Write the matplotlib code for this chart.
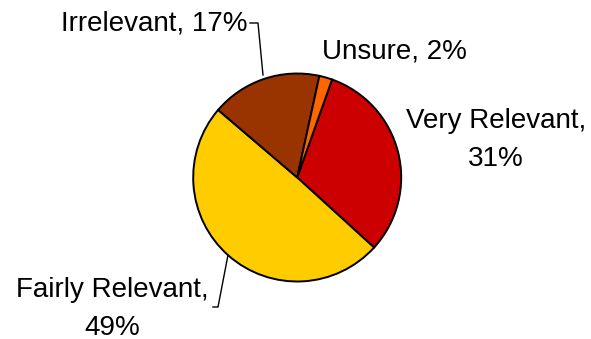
import matplotlib
matplotlib.use("Agg")
import matplotlib.pyplot as plt

plt.rcParams['font.family'] = ['Liberation Sans', 'DejaVu Sans']

# survey answers, clockwise from the top
labels = ['Very Relevant', 'Fairly Relevant', 'Irrelevant', 'Unsure']
values = [31, 49, 17, 2]
colors = ['#CC0000', '#FFCC00', '#993300', '#FF6600']

W, H = 591, 339
fig = plt.figure(figsize=(W / 100, H / 100), dpi=100)
ax = fig.add_axes([0, 0, 1, 1])

cx, cy, r = 297.2, H - 177.5, 104
ax.pie(values, colors=colors, startangle=70.4, counterclock=False,
       center=(cx, cy), radius=r, frame=True,
       wedgeprops=dict(edgecolor='black', linewidth=1.4))
ax.set_xlim(0, W)
ax.set_ylim(0, H)
ax.set_aspect('equal')
ax.axis('off')

# label placement (pixel coords from the top-left)
text_pos = {
    'Very Relevant': (496, 140, True),
    'Fairly Relevant': (112, 309, True),
    'Irrelevant': (154, 23, False),
    'Unsure': (394, 51, False),
}
for lab, val in zip(labels, values):
    x, y, wrap = text_pos[lab]
    sep = ',\n' if wrap else ', '
    ax.text(x, H - y, f'{lab}{sep}{val}%', ha='center', va='center',
            fontsize=20, linespacing=1.6)

# leader lines
ax.plot([250, 258, 263], [H - 23, H - 23, H - 75], color='black', lw=1)
ax.plot([213, 218, 228], [H - 307, H - 307, H - 255], color='black', lw=1)

fig.savefig('out.png', dpi=100)
